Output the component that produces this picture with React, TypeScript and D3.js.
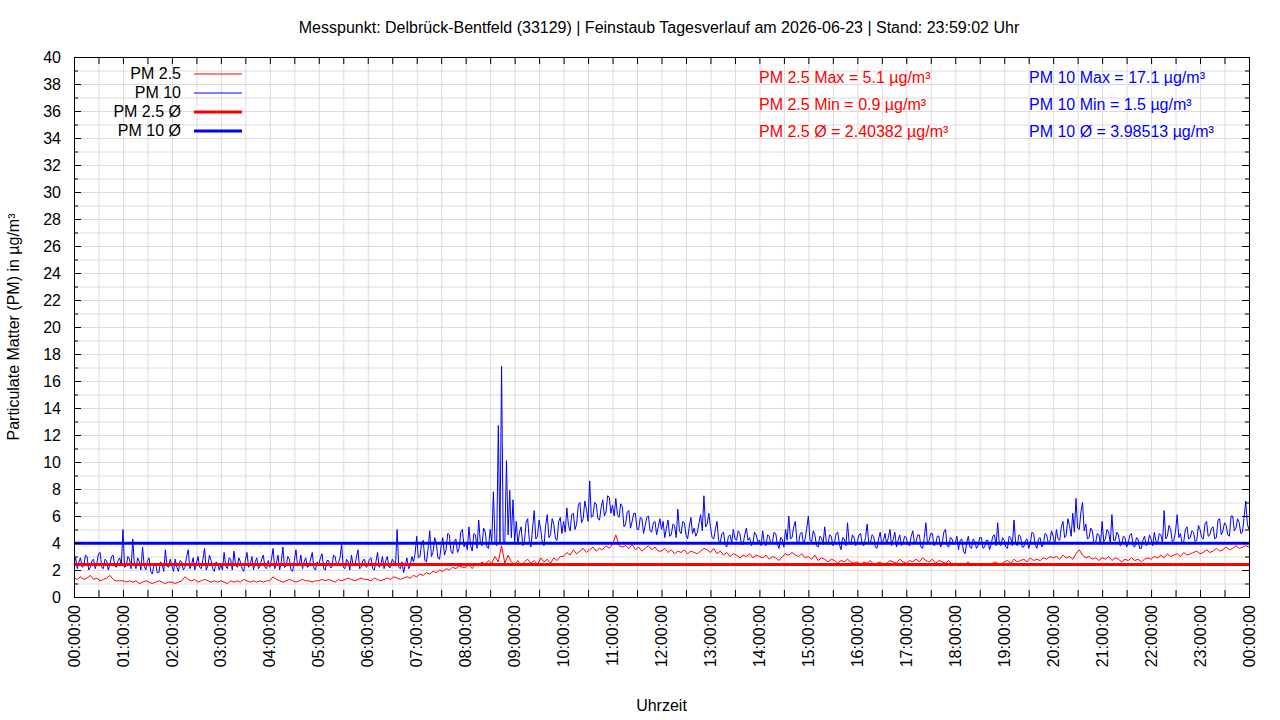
import * as d3 from 'd3';

// PM10: Messwerte alle 2 Minuten, 00:00 bis 24:00 (30 Werte je Stunde + Endwert)
const pm10Values = [
  2.4, 2.9, 2.1, 2.6, 2.9, 2.2, 2.3, 3.1, 3.0, 2.0, 2.2, 2.7, 2.8, 2.1, 2.5, 3.2, 3.3, 2.2, 2.1, 2.8, 2.7, 2.0, 2.4, 3.0, 3.1, 2.3, 2.2, 2.7, 2.9, 2.3,
  5.0, 2.2, 2.3, 3.0, 2.8, 2.1, 4.3, 2.4, 2.1, 2.9, 2.6, 2.0, 3.7, 2.3, 2.0, 2.7, 2.9, 1.9, 1.7, 2.4, 2.5, 1.8, 1.8, 2.6, 2.4, 1.9, 3.5, 2.3, 2.2, 2.8,
  2.3, 1.9, 2.8, 2.2, 1.9, 2.7, 2.6, 2.0, 2.2, 3.0, 3.5, 2.1, 2.4, 2.9, 2.0, 2.5, 3.0, 2.2, 2.1, 2.8, 3.6, 2.0, 2.3, 3.1, 2.7, 2.1, 1.9, 2.6, 2.5, 2.0,
  2.4, 2.0, 3.3, 2.3, 2.1, 2.9, 2.8, 2.0, 3.4, 2.4, 2.2, 2.9, 2.6, 2.1, 1.9, 2.7, 3.3, 2.2, 2.4, 3.0, 2.0, 2.6, 2.9, 2.1, 2.3, 2.8, 3.1, 2.2, 2.1, 2.7,
  2.2, 2.8, 3.6, 2.1, 2.5, 3.1, 2.0, 2.6, 3.7, 2.2, 2.3, 3.0, 2.8, 2.0, 1.9, 2.7, 3.5, 2.3, 2.4, 3.1, 2.1, 2.6, 2.9, 2.2, 2.3, 2.8, 3.3, 2.1, 2.0, 2.6,
  2.4, 2.9, 3.2, 2.1, 2.0, 2.7, 2.7, 2.2, 2.2, 3.1, 3.0, 2.3, 2.5, 2.9, 3.9, 2.2, 2.1, 2.8, 2.6, 2.0, 3.1, 2.4, 2.3, 2.9, 3.5, 2.1, 2.2, 2.7, 2.8, 2.2,
  2.3, 2.8, 2.9, 2.1, 2.0, 2.6, 3.3, 2.2, 2.4, 3.0, 2.1, 2.7, 3.0, 2.2, 2.2, 2.8, 2.6, 2.3, 5.0, 2.2, 2.1, 2.6, 1.8, 2.4, 2.9, 2.1, 2.3, 3.0, 2.6, 3.2,
  4.5, 2.9, 3.0, 4.0, 4.2, 2.7, 2.6, 3.6, 4.9, 3.0, 3.3, 4.4, 4.0, 2.9, 2.8, 3.8, 4.4, 3.1, 3.5, 4.7, 4.6, 3.4, 3.2, 4.1, 4.3, 3.3, 3.6, 4.8, 5.0, 3.7,
  4.0, 3.5, 5.2, 3.8, 3.4, 4.7, 4.6, 3.6, 5.7, 4.0, 3.8, 5.1, 4.8, 3.7, 3.6, 5.0, 4.1, 7.8, 4.0, 3.8, 12.7, 4.0, 17.1, 4.2, 4.0, 10.1, 4.6, 7.9, 4.4, 7.2,
  4.1, 5.6, 3.9, 4.8, 5.2, 3.8, 4.1, 5.5, 5.8, 4.2, 3.7, 5.1, 6.4, 4.3, 4.5, 5.7, 5.0, 4.0, 3.8, 5.3, 6.1, 4.4, 4.6, 5.8, 5.4, 4.3, 4.2, 5.6, 5.9, 4.7,
  5.6, 4.8, 6.6, 5.3, 4.9, 6.1, 6.2, 5.0, 5.4, 6.8, 7.0, 5.5, 5.8, 7.1, 6.5, 5.6, 8.6, 5.9, 6.0, 7.0, 6.9, 5.8, 5.7, 6.6, 7.2, 6.0, 6.3, 7.5, 7.4, 6.2,
  6.8, 6.0, 7.3, 6.1, 5.9, 6.9, 6.7, 5.2, 5.4, 6.3, 6.4, 5.1, 5.6, 6.2, 6.2, 5.0, 5.0, 5.9, 5.8, 4.7, 5.3, 5.9, 6.0, 4.9, 4.8, 5.5, 5.6, 4.6, 5.2, 5.8,
  5.0, 5.6, 4.4, 5.1, 5.7, 4.5, 4.6, 5.4, 5.3, 4.4, 6.5, 4.9, 4.7, 5.6, 5.5, 4.6, 4.3, 5.2, 5.9, 4.7, 5.1, 4.5, 4.8, 5.5, 6.1, 4.9, 7.5, 5.2, 5.4, 6.2,
  5.2, 4.4, 4.3, 5.0, 5.6, 4.2, 4.0, 4.7, 4.8, 3.9, 3.7, 4.5, 4.6, 4.0, 5.0, 4.3, 4.2, 4.9, 4.7, 3.9, 3.9, 4.6, 5.1, 4.2, 4.4, 3.8, 4.0, 4.8, 4.6, 4.1,
  4.2, 3.8, 4.9, 4.0, 3.8, 4.6, 4.5, 3.9, 4.1, 4.8, 4.7, 3.9, 3.6, 4.4, 4.3, 3.7, 5.0, 4.2, 6.0, 4.3, 4.4, 5.2, 5.6, 4.1, 4.0, 4.7, 4.8, 3.9, 4.3, 5.1,
  6.0, 4.2, 4.1, 4.9, 4.6, 3.8, 3.7, 4.5, 4.4, 3.9, 5.2, 4.1, 3.9, 4.6, 4.5, 3.8, 4.0, 4.7, 4.8, 3.9, 3.5, 4.4, 4.3, 3.8, 5.5, 4.0, 3.9, 4.6, 4.4, 3.8,
  4.1, 4.6, 4.7, 3.9, 3.8, 4.4, 5.4, 4.0, 4.0, 4.6, 4.5, 3.7, 3.6, 4.3, 4.8, 3.9, 4.2, 4.7, 3.9, 4.4, 5.0, 3.8, 4.3, 4.8, 3.7, 4.2, 4.6, 3.8, 4.0, 4.5,
  4.4, 3.9, 3.8, 4.5, 4.9, 4.0, 4.1, 4.6, 4.6, 3.7, 3.6, 4.4, 5.5, 3.9, 4.2, 4.7, 4.7, 3.8, 3.9, 4.5, 4.5, 3.7, 4.0, 4.8, 5.0, 3.8, 3.7, 4.4, 4.3, 3.9,
  4.0, 4.5, 3.5, 4.2, 4.3, 3.4, 3.2, 4.0, 4.5, 3.7, 3.6, 4.3, 4.1, 3.6, 3.8, 4.4, 4.4, 3.6, 3.7, 4.2, 4.2, 3.5, 3.9, 4.5, 4.6, 3.8, 5.5, 3.9, 3.8, 4.4,
  4.2, 3.7, 3.6, 4.5, 4.4, 3.8, 5.7, 4.0, 3.8, 4.6, 4.5, 3.7, 3.7, 4.2, 4.3, 3.6, 4.0, 4.8, 4.7, 3.9, 3.6, 4.3, 4.4, 3.7, 3.9, 4.7, 4.6, 4.0, 4.1, 4.9,
  4.5, 3.9, 5.0, 4.3, 4.2, 5.2, 5.6, 4.4, 4.6, 5.8, 5.3, 4.5, 6.2, 4.8, 7.3, 5.1, 5.0, 6.3, 7.0, 4.9, 5.4, 4.3, 4.4, 5.1, 4.9, 4.0, 4.0, 4.7, 4.6, 3.9,
  5.6, 4.1, 4.3, 5.0, 4.8, 4.0, 6.1, 4.2, 4.2, 4.8, 4.6, 3.8, 3.9, 4.5, 4.4, 3.7, 4.0, 4.6, 4.7, 3.8, 3.7, 4.4, 4.3, 3.6, 3.6, 4.2, 4.5, 3.8, 3.9, 4.6,
  4.3, 3.8, 4.8, 4.1, 4.0, 4.7, 4.6, 4.0, 6.4, 4.3, 4.5, 5.3, 5.0, 4.1, 4.2, 4.9, 6.1, 4.4, 4.7, 4.0, 4.1, 5.0, 5.2, 4.3, 4.4, 4.9, 4.8, 4.1, 4.2, 5.3,
  5.0, 4.4, 4.3, 5.4, 5.6, 4.5, 4.6, 5.1, 5.2, 4.3, 4.4, 5.7, 5.8, 4.6, 4.9, 5.5, 5.3, 4.6, 4.5, 6.0, 6.0, 4.9, 5.1, 5.8, 5.5, 4.7, 4.8, 5.9, 7.1, 5.4,
  5.0,
];

// PM2.5: Messwerte alle 4 Minuten (15 Werte je Stunde + Endwert)
const pm25Values = [
  1.4, 1.3, 1.5, 1.3, 1.4, 1.6, 1.3, 1.4, 1.2, 1.3, 1.4, 1.6, 1.3, 1.2, 1.2,
  1.2, 1.1, 1.2, 1.1, 1.2, 1.0, 1.1, 1.2, 1.1, 1.0, 1.1, 1.2, 1.1, 1.0, 1.1,
  1.1, 1.0, 1.1, 1.2, 1.5, 1.3, 1.2, 1.3, 1.1, 1.2, 1.3, 1.2, 1.1, 1.2, 1.1,
  1.2, 1.1, 1.0, 1.2, 1.1, 1.2, 1.1, 1.3, 1.2, 1.1, 1.2, 1.1, 1.2, 1.1, 1.2,
  1.2, 1.5, 1.3, 1.2, 1.1, 1.2, 1.3, 1.2, 1.1, 1.2, 1.3, 1.2, 1.2, 1.1, 1.2,
  1.2, 1.3, 1.2, 1.3, 1.2, 1.1, 1.3, 1.2, 1.3, 1.4, 1.3, 1.2, 1.3, 1.4, 1.3,
  1.3, 1.2, 1.4, 1.3, 1.2, 1.3, 1.4, 1.3, 1.5, 1.4, 1.3, 1.4, 1.5, 1.4, 1.6,
  1.5, 1.7, 1.6, 1.8, 1.7, 1.9, 1.8, 2.0, 1.9, 2.1, 2.0, 2.2, 2.1, 2.3, 2.2,
  2.2, 2.4, 2.1, 2.5, 2.3, 2.6, 2.4, 2.7, 2.5, 3.0, 2.6, 3.8, 2.5, 3.1, 2.6,
  2.4, 2.7, 2.3, 2.6, 2.8, 2.5, 2.7, 2.4, 2.9, 2.6, 2.8, 2.5, 2.9, 2.7, 3.0,
  3.0, 3.3, 3.1, 3.5, 3.2, 3.4, 3.6, 3.3, 3.5, 3.7, 3.4, 3.6, 3.5, 3.8, 3.6,
  3.9, 4.6, 3.8, 3.7, 3.8, 3.6, 3.9, 3.5, 3.7, 3.4, 3.6, 3.8, 3.5, 3.7, 3.4,
  3.4, 3.6, 3.3, 3.5, 3.2, 3.4, 3.3, 3.5, 3.2, 3.4, 3.3, 3.2, 3.4, 3.6, 3.5,
  3.3, 3.6, 3.2, 3.4, 3.1, 3.3, 3.0, 3.2, 3.1, 2.9, 3.1, 3.0, 3.2, 2.9, 3.1,
  3.0, 2.9, 3.1, 2.8, 3.0, 2.9, 2.7, 3.0, 3.2, 3.1, 3.3, 3.1, 3.0, 3.2, 2.9,
  3.0, 2.8, 3.1, 2.7, 2.9, 2.8, 2.6, 2.8, 2.7, 2.5, 2.7, 2.6, 2.8, 2.6, 2.5,
  2.6, 2.4, 2.6, 2.5, 2.7, 2.4, 2.5, 2.6, 2.4, 2.5, 2.7, 2.6, 2.5, 2.8, 2.6,
  2.5, 2.7, 2.6, 2.8, 2.6, 2.9, 2.7, 2.6, 2.8, 2.5, 2.7, 2.6, 2.5, 2.7, 2.4,
  2.5, 2.3, 2.5, 2.4, 2.6, 2.3, 2.4, 2.5, 2.3, 2.4, 2.5, 2.4, 2.6, 2.5, 2.4,
  2.6, 2.7, 2.5, 2.8, 2.6, 2.7, 2.8, 2.6, 2.9, 2.7, 2.8, 2.7, 2.9, 2.8, 3.0,
  2.9, 3.0, 2.8, 3.1, 2.9, 3.0, 2.8, 3.2, 3.5, 3.1, 2.9, 3.0, 2.8, 2.9, 2.7,
  2.9, 2.8, 3.0, 2.7, 2.9, 2.8, 2.6, 2.8, 2.7, 2.9, 2.7, 2.8, 2.6, 2.8, 2.9,
  2.8, 3.0, 2.9, 3.1, 2.9, 3.2, 3.0, 3.1, 3.2, 3.0, 3.3, 3.1, 3.2, 3.3, 3.4,
  3.2, 3.3, 3.5, 3.3, 3.4, 3.6, 3.4, 3.5, 3.7, 3.5, 3.6, 3.8, 3.6, 3.7, 3.8,
  3.7,
];

const pm10StepMinutes = 2;
const pm25StepMinutes = 4;

const pm25Avg = 2.40382;
const pm10Avg = 3.98513;

const legendLabels = ['PM 2.5', 'PM 10', 'PM 2.5 Ø', 'PM 10 Ø'];
const pm25Stats = ['PM 2.5 Max = 5.1 µg/m³', 'PM 2.5 Min = 0.9 µg/m³', 'PM 2.5 Ø = 2.40382 µg/m³'];
const pm10Stats = ['PM 10 Max = 17.1 µg/m³', 'PM 10 Min = 1.5 µg/m³', 'PM 10 Ø = 3.98513 µg/m³'];

const title = 'Messpunkt: Delbrück-Bentfeld (33129) | Feinstaub Tagesverlauf am 2026-06-23 | Stand: 23:59:02 Uhr';

const RED = '#ff0000';
const BLUE = '#0000ff';
const FONT = '"Liberation Sans", Arial, sans-serif';

export default function App() {
  const width = 1280;
  const height = 720;
  const margin = { top: 57, right: 31, bottom: 123, left: 74 };

  const start = new Date(2026, 5, 23, 0, 0, 0);
  const end = new Date(2026, 5, 24, 0, 0, 0);

  const x = d3.scaleTime().domain([start, end]).range([margin.left, width - margin.right]);
  const y = d3.scaleLinear().domain([0, 40]).range([height - margin.bottom, margin.top]);

  const pm10 = pm10Values.map((v, i) => ({ t: d3.timeMinute.offset(start, i * pm10StepMinutes), v }));
  const pm25 = pm25Values.map((v, i) => ({ t: d3.timeMinute.offset(start, i * pm25StepMinutes), v }));

  const line = d3.line<{ t: Date; v: number }>()
    .x(d => x(d.t))
    .y(d => y(d.v));

  const halfHours = x.ticks(d3.timeMinute.every(30) as d3.TimeInterval);
  const hours = x.ticks(d3.timeHour.every(1) as d3.TimeInterval);
  const yGrid = d3.range(0, 41, 1);
  const yLabels = d3.range(0, 41, 2);
  const fmt = d3.timeFormat('%H:%M:%S');

  const x0 = margin.left;
  const x1 = width - margin.right;
  const y0 = height - margin.bottom;
  const y1 = margin.top;

  return (
    <svg
      width={width}
      height={height}
      style={{ position: 'absolute', left: 0, top: 0, background: '#fff' }}
      fontFamily={FONT}
      fontSize={16}
    >
      {/* Gitter */}
      <g stroke="#dcdcdc" strokeWidth={1}>
        {halfHours.map((t, i) => (
          <line key={'gx' + i} x1={x(t) + 0.5} x2={x(t) + 0.5} y1={y1} y2={y0} />
        ))}
        {yGrid.map(v => (
          <line key={'gy' + v} x1={x0} x2={x1} y1={y(v) + 0.5} y2={y(v) + 0.5} />
        ))}
      </g>

      {/* Messreihen */}
      <path d={line(pm25) ?? ''} fill="none" stroke={RED} strokeWidth={1} />
      <path d={line(pm10) ?? ''} fill="none" stroke={BLUE} strokeWidth={1} />
      <line x1={x0} x2={x1} y1={y(pm25Avg)} y2={y(pm25Avg)} stroke={RED} strokeWidth={3} />
      <line x1={x0} x2={x1} y1={y(pm10Avg)} y2={y(pm10Avg)} stroke={BLUE} strokeWidth={3} />

      {/* Rahmen und Ticks */}
      <rect x={x0 + 0.5} y={y1 + 0.5} width={x1 - x0} height={y0 - y1} fill="none" stroke="#000" strokeWidth={1} />
      <g stroke="#000" strokeWidth={1}>
        {halfHours.map((t, i) => (
          <g key={'tx' + i}>
            <line x1={x(t) + 0.5} x2={x(t) + 0.5} y1={y0} y2={y0 - 7} />
            <line x1={x(t) + 0.5} x2={x(t) + 0.5} y1={y1} y2={y1 + 7} />
          </g>
        ))}
        {yGrid.map(v => {
          const len = v % 2 === 0 ? 7 : 4;
          return (
            <g key={'ty' + v}>
              <line x1={x0} x2={x0 + len} y1={y(v) + 0.5} y2={y(v) + 0.5} />
              <line x1={x1} x2={x1 - len} y1={y(v) + 0.5} y2={y(v) + 0.5} />
            </g>
          );
        })}
      </g>

      {/* Achsenbeschriftung */}
      <g fill="#000">
        {yLabels.map(v => (
          <text key={'ly' + v} x={x0 - 13} y={y(v)} dy="0.35em" textAnchor="end">{v}</text>
        ))}
        {hours.map((t, i) => (
          <text
            key={'lx' + i}
            transform={`translate(${x(t)},${y0 + 8}) rotate(-90)`}
            dy="0.35em"
            textAnchor="end"
          >
            {fmt(t)}
          </text>
        ))}
        <text x={(x0 + x1) / 2} y={711} textAnchor="middle">Uhrzeit</text>
        <text transform={`translate(19,${(y0 + y1) / 2}) rotate(-90)`} textAnchor="middle">
          Particulate Matter (PM) in µg/m³
        </text>
        <text x={659} y={33} textAnchor="middle">{title}</text>
      </g>

      {/* Legende */}
      {legendLabels.map((label, i) => {
        const ly = 73 + i * 19;
        return (
          <g key={'lg' + i}>
            <text x={181} y={ly} dy="0.35em" textAnchor="end" fill="#000">{label}</text>
            <line
              x1={194}
              x2={242}
              y1={ly + 1}
              y2={ly + 1}
              stroke={i % 2 === 0 ? RED : BLUE}
              strokeWidth={i < 2 ? 1 : 3}
            />
          </g>
        );
      })}

      {/* Kennwerte */}
      {pm25Stats.map((s, i) => (
        <text key={'s25' + i} x={759} y={77 + i * 27} dy="0.35em" fill={RED}>{s}</text>
      ))}
      {pm10Stats.map((s, i) => (
        <text key={'s10' + i} x={1029} y={77 + i * 27} dy="0.35em" fill={BLUE}>{s}</text>
      ))}
    </svg>
  );
}
